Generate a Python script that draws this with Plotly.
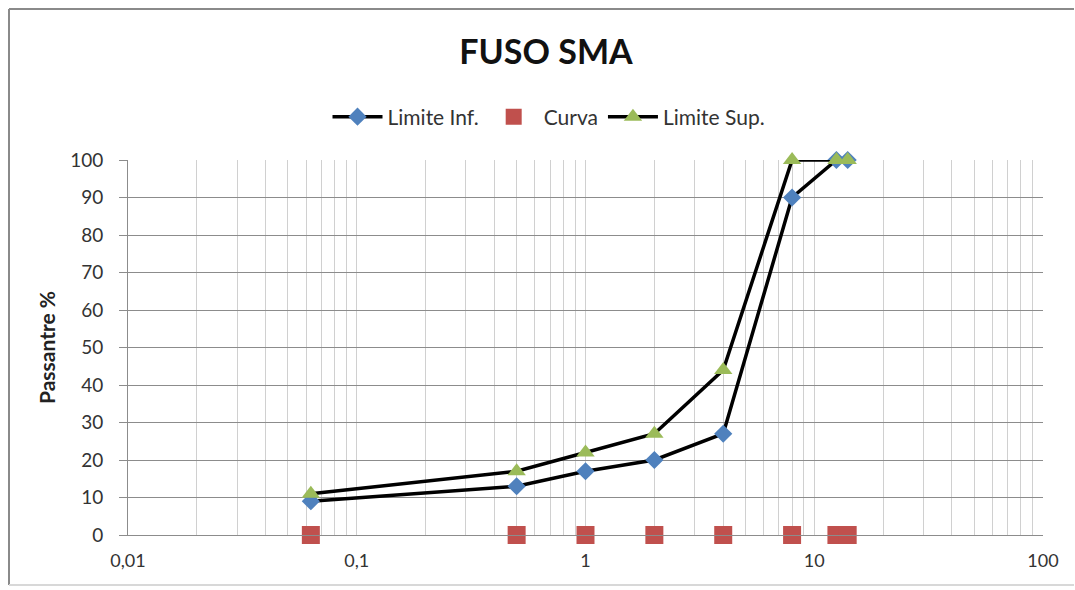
import plotly.graph_objects as go

# Sieve openings (mm)
sieves = [0.063, 0.5, 1, 2, 4, 8, 12.5, 14]
limite_inf = [9, 13, 17, 20, 27, 90, 100, 100]
curva = [0, 0, 0, 0, 0, 0, 0, 0]
limite_sup = [11, 17, 22, 27, 44, 100, 100, 100]

decade_vals = [0.01, 0.1, 1, 10, 100]
decade_labels = ["0,01", "0,1", "1", "10", "100"]
y_ticks = [0, 10, 20, 30, 40, 50, 60, 70, 80, 90, 100]

# log grid positions (1..9 per decade)
grid_vals = []
grid_text = []
for d, lab in zip(decade_vals[:-1], decade_labels[:-1]):
    for k in range(1, 10):
        grid_vals.append(k * d)
        grid_text.append(lab if k == 1 else "")
grid_vals.append(decade_vals[-1])
grid_text.append(decade_labels[-1])

font_family = "Lato, 'Open Sans', sans-serif"

# figure geometry (page body margin removed by post_script)
W, H = 1075, 590
ML, MT = 128, 160
MR = W - 1043
MB = H - 535
PW, PH = W - ML - MR, H - MT - MB
PB = MT + PH  # plot bottom in figure px


def px_to_paper_y(fy):
    return (PB - fy) / PH


def px_to_paper_x(fx):
    return (fx - ML) / PW


fig = go.Figure()
fig.add_trace(go.Scatter(
    x=sieves, y=limite_inf, name="Limite Inf.", mode="lines+markers",
    line=dict(color="black", width=3.5),
    marker=dict(symbol="diamond", size=14, color="#4F81BD"),
    cliponaxis=False,
))
fig.add_trace(go.Scatter(
    x=sieves, y=curva, name="Curva", mode="markers",
    marker=dict(symbol="square", size=18, color="#C0504D"),
    cliponaxis=False,
))
fig.add_trace(go.Scatter(
    x=sieves, y=limite_sup, name="Limite Sup.", mode="lines+markers",
    line=dict(color="black", width=3.5),
    marker=dict(symbol="triangle-up", size=16, color="#9BBB59"),
    cliponaxis=False,
))

fig.update_layout(
    width=W, height=H,
    margin=dict(l=ML, r=MR, t=MT, b=MB),
    paper_bgcolor="white", plot_bgcolor="white",
    font=dict(family=font_family, color="#333333", size=18),
    title=dict(text="<b>FUSO SMA</b>", x=546 / W, xanchor="center",
               y=1 - 52 / H, yanchor="middle",
               font=dict(size=34, color="#111111", family=font_family)),
    legend=dict(orientation="h", x=px_to_paper_x(549), xanchor="center",
                y=px_to_paper_y(117), yanchor="middle",
                font=dict(size=21, color="#333333"),
                bgcolor="rgba(0,0,0,0)", itemwidth=50),
    showlegend=True,
)

fig.update_xaxes(
    type="log", range=[-2, 2],
    tickvals=grid_vals, ticktext=grid_text,
    showgrid=True, gridcolor="#D0D0D0", gridwidth=1,
    showline=True, linecolor="#8C8C8C", linewidth=1,
    ticks="outside", ticklen=9, tickcolor="rgba(255,255,255,0)",
    tickfont=dict(size=18, color="#333333"),
    zeroline=False,
)
fig.update_yaxes(
    range=[0, 100], tickvals=y_ticks,
    showgrid=True, gridcolor="#8C8C8C", gridwidth=1,
    showline=True, linecolor="#8C8C8C", linewidth=1,
    ticks="outside", ticklen=8, tickcolor="#8C8C8C",
    ticklabelstandoff=12,
    tickfont=dict(size=19, color="#333333"),
    title=dict(text="<b>Passantre %</b>", font=dict(size=21, color="#222222"),
               standoff=8),
    zeroline=False,
)

# outer chart border: left, top and bottom edges only
x_l = px_to_paper_x(9)
x_r = px_to_paper_x(W - 1)
y_t = px_to_paper_y(9)
y_b = px_to_paper_y(585)
border = dict(color="#8A8A8A", width=2)
fig.add_shape(type="line", xref="paper", yref="paper",
              x0=x_l, x1=x_r, y0=y_t, y1=y_t, line=border, layer="below")
fig.add_shape(type="line", xref="paper", yref="paper",
              x0=x_l, x1=x_l, y0=y_t, y1=y_b, line=border, layer="below")
fig.add_shape(type="line", xref="paper", yref="paper",
              x0=x_l, x1=x_r, y0=y_b, y1=y_b,
              line=dict(color="#D8D8D8", width=2), layer="below")

fig.write_html(
    "out.html",
    config={"displayModeBar": False},
    post_script=(
        "document.body.style.margin='0';"
        "document.body.style.overflow='hidden';"
        "document.documentElement.style.overflow='hidden';"
    ),
)
